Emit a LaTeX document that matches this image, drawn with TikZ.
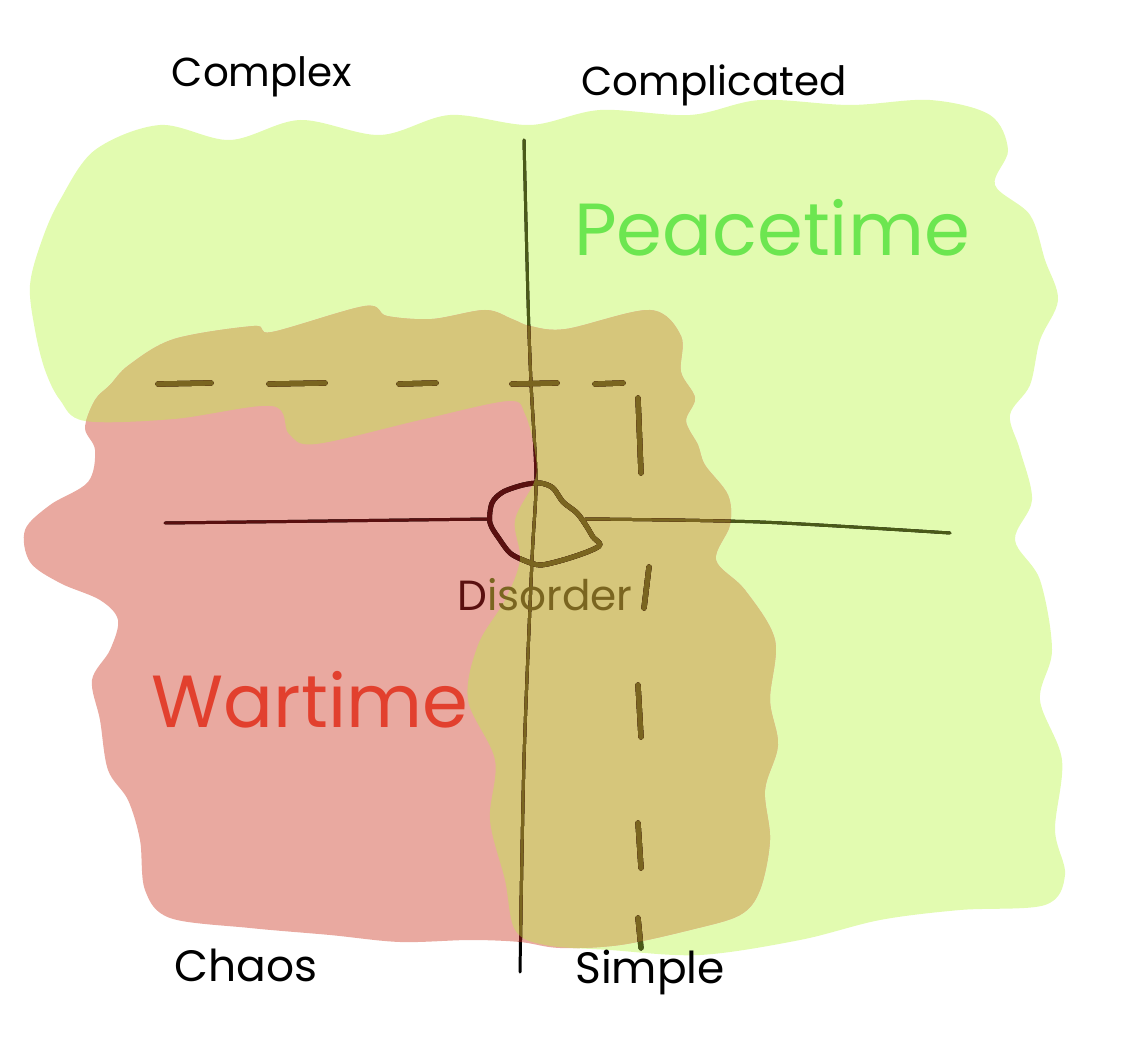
\documentclass[tikz,border=0pt]{standalone}
\usepackage{fontspec}
\setmainfont{Poppins}
\usetikzlibrary{positioning,calc}
\definecolor{peacebg}{HTML}{E2FBB0}
\definecolor{warbg}{HTML}{E9A9A0}
\definecolor{mixbg}{HTML}{D6C67B}
\definecolor{peaceink}{HTML}{6CE650}
\definecolor{warink}{HTML}{E2402E}
\definecolor{mixline}{HTML}{7A6520}
\definecolor{warline}{HTML}{5A1010}
\definecolor{peaceline}{HTML}{4A5A18}

% outlines of the two painted areas
\newcommand\peaceblob{plot[smooth cycle, tension=0.55] coordinates {
 (60,200) (95,150) (160,125) (230,140) (300,120) (380,135) (450,115) (530,125)
 (600,110) (690,115) (760,100) (850,105) (930,100) (990,115) (1008,150) (995,185)
 (1030,215) (1045,260) (1058,300) (1040,340) (1030,385) (1010,415) (1020,450)
 (1032,500) (1015,540) (1040,580) (1052,650) (1040,700) (1062,760) (1055,830)
 (1065,875) (1045,905) (960,910) (880,920) (800,940) (700,955) (610,950) (545,945)
 (515,930) (505,880) (490,820) (495,760) (468,700) (478,645) (505,600) (520,560)
 (515,520) (535,480) (535,452) (525,414) (508,401) (420,420) (316,444) (289,434)
 (272,406) (174,419) (85,421) (60,400) (45,370) (35,330) (30,285) (42,240)}}
\newcommand\warblob{plot[smooth cycle, tension=0.55] coordinates {
 (110,385) (129,365) (174,339) (254,326) (272,332) (365,306) (387,316) (432,319)
 (485,310) (512,319) (530,326) (566,329) (650,310) (681,336) (681,372) (695,398)
 (686,421) (698,445) (705,465) (728,495) (730,525) (716,560) (745,590) (775,640)
 (770,700) (778,745) (765,790) (770,840) (760,890) (740,915) (690,930) (620,945)
 (560,948) (520,942) (470,940) (400,942) (330,935) (250,928) (170,918) (145,890)
 (140,840) (128,800) (108,770) (100,720) (92,680) (110,650) (118,620) (100,600)
 (60,583) (30,562) (25,530) (50,505) (88,482) (95,450) (85,428) (95,400)}}

% axes, dashes and the disorder loop, in one ink
\newcommand\sketchlines[1]{%
 \draw[axis, #1] plot[smooth] coordinates {(vtop) (528,300) (531,383) (536,480) (532,560) (524,760) (vbot)};
 \draw[axis, #1] (hleft) -- (hmidl);
 \draw[axis, #1] plot[smooth] coordinates {(hmidr) (760,522) (hright)};
 \draw[loop, #1] plot[smooth cycle] coordinates {(523,485) (540,483) (553,488) (563,502) (577,513)
   (587,527) (593,537) (600,545) (587,552) (563,560) (540,565) (523,560) (510,553) (500,540)
   (490,523) (492,503) (503,492)};
 \foreach \xa/\xb in {158/211, 269/325, 399/436, 512/557, 595/623}
   \draw[dashbit, #1] (\xa,384) -- (\xb,383);
 \foreach \ya/\yb in {398/473, 685/737, 823/868, 918/948}
   \draw[dashbit, #1] (638,\ya) -- (641,\yb);
 \draw[dashbit, #1] (649,567) -- (644,608);
}

\begin{document}
\begin{tikzpicture}[x=0.02cm, y=-0.02cm,
 axis/.style={line width=1.7pt, line cap=round, line join=round},
 loop/.style={line width=2.8pt, line join=round},
 dashbit/.style={line width=3pt, line cap=round},
 corner/.style={font=\fontsize{23}{27}\selectfont, text=black, inner sep=0pt},
 bigword/.style={font=\fontsize{42}{46}\selectfont, inner sep=0pt}
]
\useasboundingbox (0,0) rectangle (1125,1050);

\coordinate (vtop) at (524,140);
\coordinate (vbot) at (520,972);
\coordinate (hleft) at (165,523);
\coordinate (hmidl) at (490,519);
\coordinate (hmidr) at (585,519);
\coordinate (hright) at (950,533);

% painted areas
\fill[peacebg] \peaceblob;
\fill[warbg] \warblob;
\begin{scope}
 \clip \peaceblob;
 \fill[mixbg] \warblob;
\end{scope}

% ink, tinted by the area under it
\sketchlines{black}
\begin{scope}
 \clip \peaceblob;
 \sketchlines{peaceline}
\end{scope}
\begin{scope}
 \clip \warblob;
 \sketchlines{warline}
\end{scope}
\begin{scope}
 \clip \peaceblob;
 \clip \warblob;
 \sketchlines{mixline}
\end{scope}

% words
\node[corner] (complex) at (262,77) {Complex};
\node[corner] (complicated) at (714,85) {Complicated};
\node[corner, font=\fontsize{25}{29}\selectfont] (chaos) at (246,965) {Chaos};
\node[corner, font=\fontsize{25}{29}\selectfont] (simple) at (650,972) {Simple};
\node[bigword, text=peaceink] (peace) at (772,228) {Peacetime};
\node[bigword, text=warink] (war) at (310,700) {Wartime};
\node[font=\fontsize{24}{28}\selectfont, text=mixline, inner sep=0pt] (disorder) at (545,595)
 {\textcolor{warline}{D}isorder};
\end{tikzpicture}
\end{document}
